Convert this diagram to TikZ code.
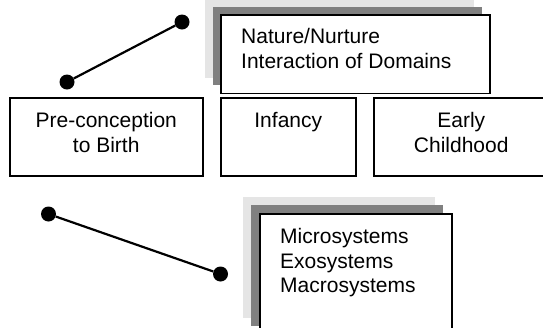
\documentclass[tikz,border=0pt]{standalone}
\usepackage{fontspec}
\setmainfont{Liberation Sans}
\definecolor{shadelight}{gray}{0.9}
\definecolor{shadedark}{gray}{0.5}
\tikzset{
  txt/.style={font=\fontsize{21bp}{24.4bp}\selectfont, inner sep=0pt},
  stagebox/.style={draw=black, line width=1.5bp, fill=white, minimum height=78bp, anchor=north west, inner sep=0pt},
  framebox/.style={draw=black, line width=1.5bp, fill=white, anchor=north west, inner sep=0pt},
  lightshade/.style={fill=shadelight, draw=none, anchor=north west, inner sep=0pt},
  darkshade/.style={fill=shadedark, draw=none, anchor=north west, inner sep=0pt},
  dot/.style={circle, fill=black, minimum size=15bp, inner sep=0pt},
  link/.style={line width=2.2bp}
}
\begin{document}
\begin{tikzpicture}[x=1bp,y=-1bp]
\useasboundingbox (0,0) rectangle (543,327);
\clip (0,0) rectangle (543,327);
% top frame with shadows
\node[lightshade, minimum width=269bp, minimum height=78.5bp] (tl) at (205,-1) {};
\node[darkshade, minimum width=269bp, minimum height=78.5bp] (td) at (213,6.5) {};
\node[framebox, minimum width=269bp, minimum height=78.5bp] (top) at (220,14) {};
\node[txt, align=left, anchor=north west] (toptext) at (241,28.5) {Nature/Nurture\\Interaction of Domains};
% top connector
\node[dot] (d1) at (67,82) {};
\node[dot] (d2) at (182,22) {};
\draw[link] (d1) -- (d2);
% stage boxes
\node[stagebox, minimum width=193bp] (pre) at (9,97) {};
\node[stagebox, minimum width=135bp] (inf) at (220,97) {};
\node[stagebox, minimum width=175bp] (early) at (373,97) {};
\node[txt, align=center, anchor=north] (pretext) at (pre.north |- 0,112.5) {Pre-conception\\to Birth};
\node[txt, align=center, anchor=north] (inftext) at (inf.north |- 0,112.5) {Infancy};
\node[txt, align=center, anchor=north] (earlytext) at (early.north |- 0,112.5) {Early\\Childhood};
% bottom connector
\node[dot] (d3) at (48.5,214) {};
\node[dot] (d4) at (220.5,274) {};
\draw[link] (d3) -- (d4);
% bottom frame with shadows
\node[lightshade, minimum width=192bp, minimum height=120.5bp] (bl) at (243,197) {};
\node[darkshade, minimum width=192bp, minimum height=120.5bp] (bd) at (251,205) {};
\node[framebox, minimum width=192bp, minimum height=120.5bp] (bottom) at (259,213) {};
\node[txt, align=left, anchor=north west] (bottomtext) at (280,228.3) {Microsystems\\Exosystems\\Macrosystems};
\end{tikzpicture}
\end{document}
